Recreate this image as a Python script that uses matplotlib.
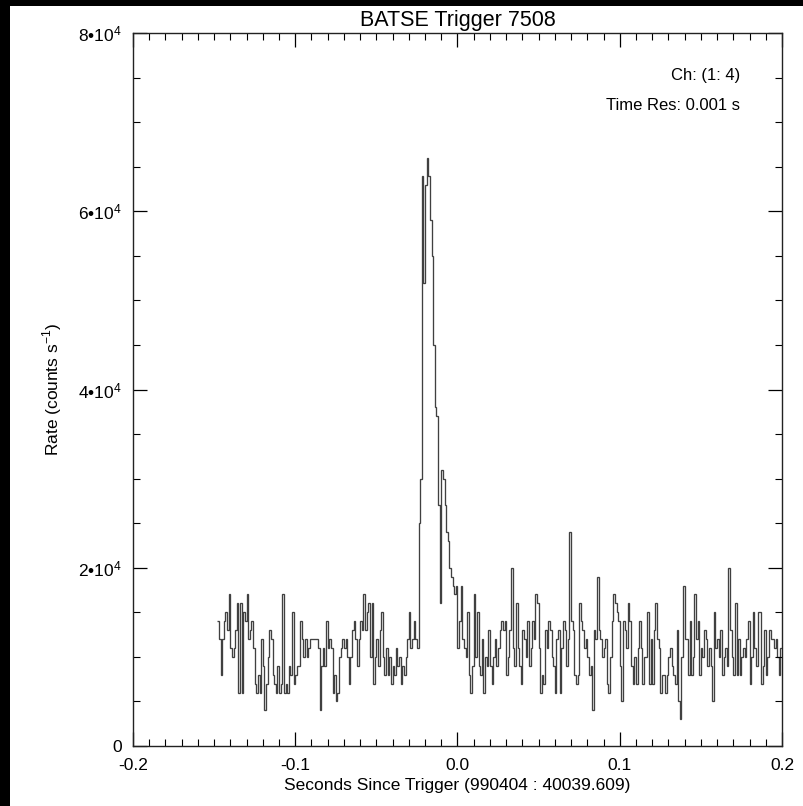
# BATSE trigger 7508 - 1 ms light curve, channels 1-4
import numpy as np
import matplotlib
matplotlib.use("Agg")
import matplotlib.pyplot as plt
from matplotlib.patches import Rectangle
from matplotlib.ticker import MultipleLocator, FuncFormatter

plt.rcParams["font.family"] = ["Liberation Sans", "DejaVu Sans"]
plt.rcParams["mathtext.fontset"] = "custom"
plt.rcParams["mathtext.rm"] = "Liberation Sans"

# --- data (rate in units of 1000 counts/s, 1 ms bins) ---
t_start = -0.148      # start of first bin (s since trigger)
bin_width = 0.001     # time resolution (s)

rate_pre = [
    14, 12, 8, 12, 14, 15, 13, 17, 11, 10,
    11, 13, 16, 6, 16, 6, 15, 14, 17, 12,
    13, 14, 11, 7, 6, 8, 6, 12, 9, 4,
    7, 10, 13, 12, 8, 7, 6, 9, 6, 7,
    17, 6, 7, 6, 9, 8, 15, 7, 8, 9,
    9, 14, 12, 10, 12, 10, 11, 12, 12, 12,
    12, 12, 11, 4, 9, 11, 9, 14, 11, 12,
    11, 6, 8, 5, 6, 10, 11, 12, 11, 12,
    10, 7, 10, 13, 14, 12, 9, 12, 14, 13,
    17, 13, 15, 16, 10, 16, 7, 10, 12, 9,
    13, 15, 10, 8, 11, 8, 10, 7, 9, 8,
    11, 9, 10, 7, 9, 8, 10, 12, 15, 11,
    12, 14, 12, 11,
]

rate_burst = [
    25, 30, 64, 52, 63, 66, 64, 59, 55, 45,
    38, 37, 27, 16, 31, 30, 27, 24, 23, 20,
    19, 18, 17, 18,
]

rate_post = [
    11, 14, 18, 12, 11, 10, 15, 8, 6, 9,
    17, 10, 15, 9, 8, 12, 6, 10, 9, 13,
    9, 7, 10, 12, 9, 11, 13, 14, 13, 14,
    8, 10, 13, 20, 11, 9, 16, 11, 9, 7,
    13, 12, 10, 14, 9, 11, 14, 12, 17, 16,
    11, 6, 8, 7, 13, 11, 14, 13, 10, 9,
    6, 12, 13, 6, 11, 14, 13, 9, 12, 24,
    14, 13, 8, 7, 8, 16, 14, 13, 11, 12,
    10, 8, 9, 4, 13, 12, 19, 13, 12, 10,
    11, 12, 7, 6, 10, 14, 17, 16, 15, 14,
    9, 5, 14, 13, 11, 16, 14, 9, 7, 10,
    7, 11, 14, 11, 7, 10, 10, 15, 7, 12,
    7, 13, 16, 12, 11, 6, 8, 8, 6, 8,
    10, 11, 9, 8, 7, 13, 5, 3, 10, 18,
    12, 12, 8, 14, 8, 10, 17, 12, 14, 8,
    11, 10, 13, 12, 9, 11, 9, 5, 15, 11,
    12, 10, 13, 8, 10, 11, 9, 20, 13, 10,
    8, 16, 8, 12, 8, 10, 11, 10, 12, 14,
    7, 10, 15, 11, 9, 15, 15, 7, 9, 13,
    8, 10, 13, 12, 12, 11, 12, 10, 8, 11,
]

rate = np.array(rate_pre + rate_burst + rate_post) * 1000.0
edges = t_start + bin_width * np.arange(len(rate) + 1)

# --- figure ---
fig = plt.figure(figsize=(8.04, 8.06), dpi=100, facecolor="black")
# white page with a black strip along the left and top edges
page = Rectangle((10 / 804, 0), 1, 1 - 6 / 806, transform=fig.transFigure,
                 facecolor="white", edgecolor="none", zorder=-10)
fig.add_artist(page)

ax = fig.add_axes([133 / 804, 60 / 806, 649 / 804, 713 / 806])
ax.set_zorder(1)
ax.set_facecolor("white")

ax.stairs(rate, edges, baseline=None, color="#404040", linewidth=0.95)

ax.set_xlim(-0.2, 0.2)
ax.set_ylim(0, 80000)

ax.xaxis.set_major_locator(MultipleLocator(0.1))
ax.xaxis.set_minor_locator(MultipleLocator(0.01))
ax.yaxis.set_major_locator(MultipleLocator(20000))
ax.yaxis.set_minor_locator(MultipleLocator(5000))
ax.xaxis.set_major_formatter(FuncFormatter(lambda v, _: f"{v:.1f}"))


def sci_fmt(v, _):
    if abs(v) < 1:
        return "0"
    return r"$\mathregular{%d•10^{4}}$" % round(v / 1e4)


ax.yaxis.set_major_formatter(FuncFormatter(sci_fmt))

ax.tick_params(which="both", direction="in", top=True, right=True,
               color="black", labelsize=12.5)
ax.tick_params(axis="x", which="major", length=10, width=0.9, pad=9)
ax.tick_params(axis="y", which="major", length=10, width=0.9, pad=8)
ax.tick_params(which="minor", length=5, width=0.8)
for s in ax.spines.values():
    s.set_linewidth(1.0)
    s.set_color("#222222")

ax.set_title("BATSE Trigger 7508", fontsize=15.5, pad=5)
ax.set_xlabel("Seconds Since Trigger (990404 : 40039.609)", fontsize=12.5, labelpad=3)
ax.set_ylabel(r"Rate (counts s$^{-1}$)", fontsize=12.5, labelpad=10)

ax.text(0.935, 0.941, "Ch: (1: 4)", transform=ax.transAxes,
        ha="right", va="center", fontsize=12)
ax.text(0.935, 0.899, "Time Res: 0.001 s", transform=ax.transAxes,
        ha="right", va="center", fontsize=12)

fig.savefig("out.png", dpi=100, facecolor=fig.get_facecolor())
